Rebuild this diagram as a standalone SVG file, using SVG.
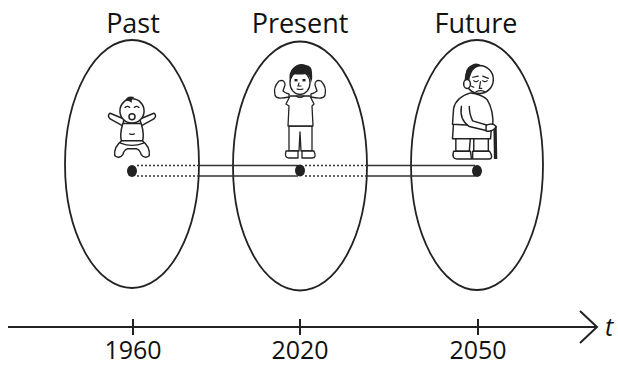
<svg xmlns="http://www.w3.org/2000/svg" width="618" height="368" viewBox="0 0 618 368">
  <style>
    .era { fill: none; stroke: #222; stroke-width: 1.8; }
    .lbl { font-family: "Open Sans", "Liberation Sans", sans-serif; font-size: 25px; fill: #111; text-anchor: middle; }
    .ttl { font-size: 27px; }
    .art { fill: #fff; stroke: #222; stroke-width: 1.3; stroke-linejoin: round; stroke-linecap: round; }
    .ink { fill: #222; stroke: none; }
    .thin { fill: none; stroke: #222; stroke-width: 1.1; stroke-linecap: round; }
    .bar { stroke: #333; stroke-width: 1.4; fill: none; }
    .dot { stroke: #333; stroke-width: 1.4; fill: none; stroke-dasharray: 2 2; }
    .axis { stroke: #222; stroke-width: 2; fill: none; }
  </style>

  <!-- Past -->
  <g id="past">
    <ellipse class="era" cx="132" cy="164" rx="67" ry="124"/>
    <text class="lbl ttl" x="133" y="33">Past</text>
    <!-- baby -->
    <g transform="translate(132 127) scale(1.15) translate(-132 -127)">
      <path class="art" d="M124 126 L113 120 Q110 117 113 115 L125 120 Z"/>
      <path class="art" d="M140 126 L151 120 Q154 117 151 115 L139 120 Z"/>
      <path class="art" d="M124 124 Q121 134 123 140 L141 140 Q143 134 140 124 Z"/>
      <path class="art" d="M123 139 Q116 144 117 152 Q121 155 124 151 Q125 147 128 146 L136 146 Q139 147 140 151 Q143 155 147 152 Q148 144 141 139 Z"/>
      <path class="thin" d="M122 141 Q132 145 142 141"/>
      <circle class="art" cx="132" cy="113" r="10.5"/>
      <path class="ink" d="M126 104 Q128 99 134 101 Q131 103 132 106 Q129 104 126 104 Z"/>
      <path class="thin" d="M126 110 Q128 108 130 110 M134 110 Q136 108 138 110"/>
      <circle class="art" cx="132" cy="118" r="2.6"/>
      <path class="thin" d="M130 133 Q132 134 134 133"/>
    </g>
  </g>

  <!-- Present -->
  <g id="present">
    <ellipse class="era" cx="300" cy="166" rx="67" ry="124.5"/>
    <text class="lbl ttl" x="300" y="33">Present</text>
    <!-- boy flexing -->
    <g>
      <path class="art" d="M289 126 L289 151 L299 151 L300 132 L301 151 L312 151 L312 126 Z"/>
      <path class="art" d="M286 151 Q284 158 289 158 L298 158 L298 151 Z"/>
      <path class="art" d="M302 151 L302 158 L312 158 Q317 158 314 151 Z"/>
      <path class="art" d="M289 97 Q276 100 275 95 Q273 87 279 81 Q285 79 285 85 L283 91 Q285 93 289 94 Z"/>
      <path class="art" d="M311 97 Q324 100 325 95 Q327 87 321 81 Q315 79 315 85 L317 91 Q315 93 311 94 Z"/>
      <path class="art" d="M290 96 L310 96 L314 104 L312 106 L313 126 L288 126 L289 106 L286 104 Z"/>
      <path class="thin" d="M296 96 Q300 99 304 96"/>
      <ellipse class="art" cx="300" cy="83" rx="10" ry="11.5"/>
      <path class="ink" d="M290 83 Q288 72 293 68 Q299 62 306 65 Q312 66 312 72 Q313 78 311 83 Q310 75 306 74 Q299 75 293 74 Q291 78 290 83 Z"/>
      <rect class="ink" x="294.5" y="79" width="3" height="2.4"/>
      <rect class="ink" x="302.5" y="79" width="3" height="2.4"/>
      <path class="thin" d="M299 83 L298 86 L301 86 M297 89 Q300 90 303 89"/>
    </g>
  </g>

  <!-- Future -->
  <g id="future">
    <ellipse class="era" cx="477" cy="165" rx="66" ry="125"/>
    <text class="lbl ttl" x="476" y="33">Future</text>
    <!-- old man with cane -->
    <g transform="translate(476 159) scale(1.12) translate(-476 -159)">
      <path class="art" d="M458 140 L458 152 L470 152 L471 140 Z"/>
      <path class="art" d="M474 140 L474 152 L487 152 L487 140 Z"/>
      <path class="art" d="M456 152 Q454 159 459 159 L472 159 L471 152 Z"/>
      <path class="art" d="M473 152 L473 159 L488 159 Q492 158 488 152 Z"/>
      <path class="art" d="M456 126 L455 141 L489 141 L490 128 Z"/>
      <path class="art" d="M471 100 Q458 104 456 114 L455 128 L491 130 Q492 116 486 106 Q481 101 471 100 Z"/>
      <path class="art" d="M463 112 Q461 124 470 130 L487 134 Q491 133 490 130 L473 125 Q470 119 470 112"/>
      <path class="ink" d="M491.5 130 L494.5 130 L495 159 L492 159 Z"/>
      <path class="art" d="M485 129 Q491 126 494 130 Q491 135 485 134 Z"/>
      <circle class="art" cx="479" cy="88" r="12.5"/>
      <path class="ink" d="M467 88 Q465 78 472 75 Q478 72 481 76 Q474 77 472 82 Q470 86 470 91 Z"/>
      <ellipse class="art" cx="468" cy="92" rx="3" ry="4"/>
      <path class="thin" d="M473 86 L478 85 M482 85 L487 87 M474 89 Q476 91 478 89 M482 89 Q484 91 486 89 M480 90 L479 96 L481 96 M476 99 Q480 97 484 99 M472 94 L474 95"/>
    </g>
  </g>

  <!-- timeline bars between the moments -->
  <g id="connectors">
    <path class="dot" d="M137 165.5 L198 165.5 M137 176 L198 176"/>
    <path class="bar" d="M198 165.5 L298 165.5 M198 176 L298 176"/>
    <path class="dot" d="M305 165.5 L366 165.5 M305 176 L366 176"/>
    <path class="bar" d="M366 165.5 L475 165.5 M366 176 L475 176"/>
    <ellipse class="ink" cx="132" cy="171" rx="5" ry="6"/>
    <ellipse class="ink" cx="300" cy="170.5" rx="5" ry="6"/>
    <ellipse class="ink" cx="477" cy="171" rx="5" ry="6"/>
  </g>

  <!-- time axis -->
  <g id="axis">
    <path class="axis" d="M8 327 L597 327"/>
    <path class="axis" d="M580 311 L597 327 L580 343"/>
    <path class="axis" d="M133 319 L133 335 M300 319 L300 335 M478 319 L478 335"/>
    <text class="lbl" x="133" y="359">1960</text>
    <text class="lbl" x="300" y="359">2020</text>
    <text class="lbl" x="478" y="359">2050</text>
    <text class="lbl" x="609" y="336" font-style="italic">t</text>
  </g>
</svg>
